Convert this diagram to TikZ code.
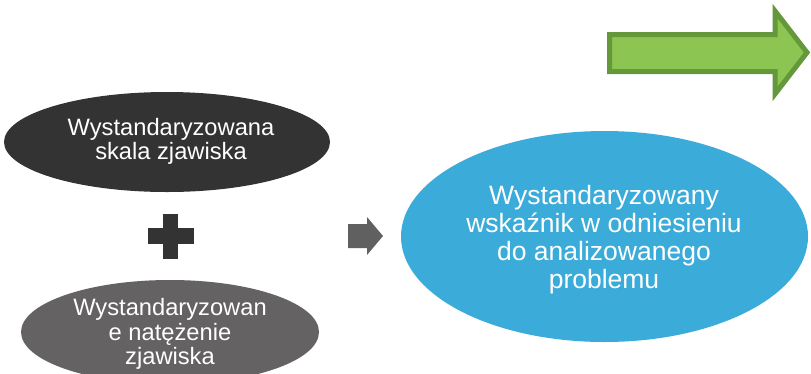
\documentclass[tikz,border=0pt]{standalone}
\usepackage{fontspec}
\setmainfont{Liberation Sans}
\usetikzlibrary{shapes.geometric}
\definecolor{darkell}{HTML}{333333}
\definecolor{greyell}{HTML}{646262}
\definecolor{arrgrey}{HTML}{606060}
\definecolor{blueell}{HTML}{3BACD9}
\definecolor{greenfill}{HTML}{8CC552}
\definecolor{greenline}{HTML}{64983A}
\tikzset{
  ell/.style={ellipse, inner sep=0pt},
  elltext/.style={text=white, align=center, inner sep=0pt},
}
\begin{document}
\begin{tikzpicture}[x=1pt,y=-1pt]
\useasboundingbox (0,0) rectangle (811,373);
\fill[white] (0,0) rectangle (811,373);
% dark ellipse
\node[ell, fill=darkell, minimum width=326pt, minimum height=100pt] (scale) at (167,142) {};
\node[elltext, font=\fontsize{23.7}{23.5}\selectfont] (scalet) at (171,141.5)
  {Wystandaryzowana\\skala zjawiska};
% plus sign
\node[fill=darkell, minimum width=15pt, minimum height=45pt, inner sep=0pt] (plusv) at (170.5,236.5) {};
\node[fill=darkell, minimum width=46pt, minimum height=16pt, inner sep=0pt] (plush) at (171,236) {};
% grey ellipse
\node[ell, fill=greyell, minimum width=298pt, minimum height=104pt] (nat) at (170,332) {};
\node[elltext, font=\fontsize{23.7}{24.5}\selectfont] (natt) at (170,334)
  {Wystandaryzowan\\e natężenie\\zjawiska};
% grey arrow
\fill[arrgrey] (348,224) -- (367,224) -- (367,217) -- (383,236) -- (367,255) -- (367,248) -- (348,248) -- cycle;
% blue ellipse
\node[ell, fill=blueell, minimum width=407pt, minimum height=211pt] (wsk) at (604.5,236.5) {};
\node[elltext, font=\fontsize{26.5}{28}\selectfont] (wskt) at (604,240)
  {Wystandaryzowany\\wskaźnik w odniesieniu\\do analizowanego\\problemu};
% green arrow
\filldraw[fill=greenfill, draw=greenline, line width=5pt, line join=miter]
  (609.5,34.5) -- (775,34.5) -- (775,11) -- (807,52.5) -- (775,94) -- (775,71.5) -- (609.5,71.5) -- cycle;
\end{tikzpicture}
\end{document}
